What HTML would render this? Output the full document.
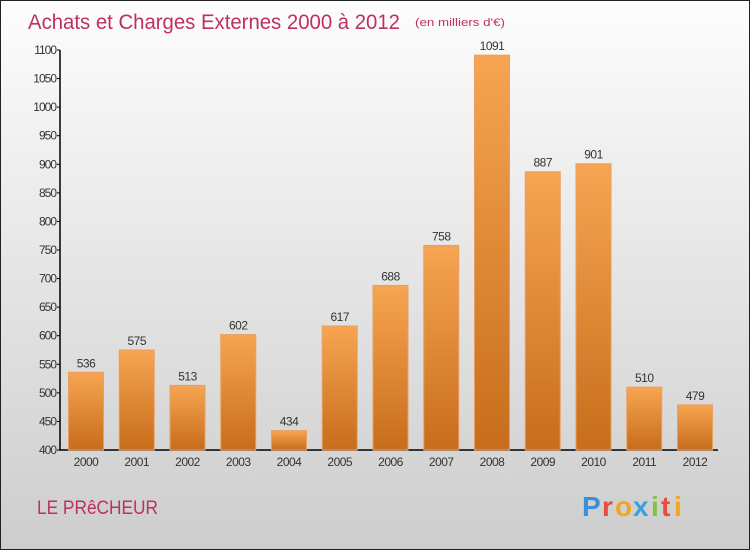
<!DOCTYPE html>
<html><head><meta charset="utf-8"><style>
html,body{margin:0;padding:0}
body{width:750px;height:550px;overflow:hidden;font-family:"Liberation Sans",sans-serif}
#wrap{position:absolute;left:0;top:0;width:748px;height:548px;border:1px solid #222;background:linear-gradient(#fdfdfd,#cdcdcd)}
</style></head><body>
<div id="wrap">
<svg id="chart" width="750" height="550" style="position:absolute;left:-1px;top:-1px">
<defs><linearGradient id="g" x1="0" y1="0" x2="0" y2="1"><stop offset="0" stop-color="#f7a552"/><stop offset="1" stop-color="#c76d1c"/></linearGradient></defs>
<text x="28" y="29" font-size="21" fill="#c0305e" textLength="372" lengthAdjust="spacingAndGlyphs">Achats et Charges Externes 2000 à 2012</text>
<text x="415" y="26" font-size="11" fill="#c0305e" textLength="90" lengthAdjust="spacingAndGlyphs">(en milliers d'€)</text>
<text x="37" y="514" font-size="19" fill="#c0305e" textLength="121" lengthAdjust="spacingAndGlyphs">LE PRêCHEUR</text>
<g font-size="28" font-weight="bold">
<text x="582" y="516" fill="#3a8fd8">P</text><text x="602" y="516" fill="#e84c3c">r</text><text x="615" y="516" fill="#f2a51f">o</text><text x="633" y="516" fill="#3aa0e0">x</text><text x="651" y="516" fill="#7cc63c">i</text><text x="661" y="516" fill="#e84c3c">t</text><text x="674" y="516" fill="#f2a51f">i</text>
</g>
<g id="axes"></g><g id="bars"></g>
</svg></div>
<script>
const years=["2000","2001","2002","2003","2004","2005","2006","2007","2008","2009","2010","2011","2012"];
const values=[536,575,513,602,434,617,688,758,1091,887,901,510,479];
const ticks=[400,450,500,550,600,650,700,750,800,850,900,950,1000,1050,1100];
const NS="http://www.w3.org/2000/svg";
const ax=document.getElementById('axes'),bg=document.getElementById('bars');
const y=v=>450-(v-400)*(400/700);
const xc=i=>86+i*50.75;
function mk(t,a,p){const e=document.createElementNS(NS,t);for(const k in a)e.setAttribute(k,a[k]);p.appendChild(e);return e;}
const yl=mk('line',{x1:60,y1:50,x2:60,y2:450,stroke:'#000','stroke-width':1.5},ax);


const xl=mk('line',{x1:59,y1:450,x2:718,y2:450,stroke:'#000','stroke-width':1.5},ax);


ticks.forEach(t=>{
 mk('line',{x1:57,y1:y(t),x2:60,y2:y(t),stroke:'#000'},ax);
 const tx=mk('text',{x:56,y:y(t)+4,'font-size':12,fill:'#333','text-anchor':'end','letter-spacing':'-1'},ax);
 tx.textContent=t;
 
 
});
years.forEach((yr,i)=>{
 const v=values[i];
 const r=mk('rect',{x:xc(i)-17.5,y:y(v),width:35,height:450-y(v),fill:'url(#g)',stroke:'#e8a060','stroke-width':1},bg);
 
 
 const l=mk('text',{x:xc(i),y:y(v)-5,'font-size':12,fill:'#333','text-anchor':'middle','letter-spacing':'-0.5'},bg);
 l.textContent=v;
 
 
 const xt=mk('text',{x:xc(i),y:466,'font-size':12,fill:'#333','text-anchor':'middle','letter-spacing':'-0.5'},ax);
 xt.textContent=yr;
 
 
});
</script>
</body></html>
